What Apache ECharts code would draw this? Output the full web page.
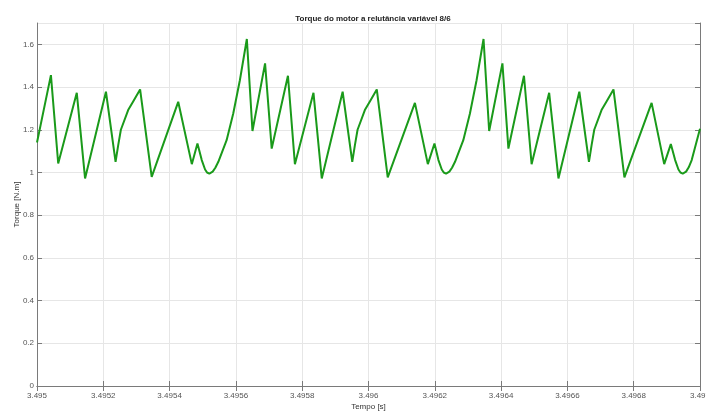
<!DOCTYPE html>
<html>
<head>
<meta charset="utf-8">
<title>Torque do motor</title>
<script src="https://cdn.jsdelivr.net/npm/echarts@6/dist/echarts.min.js"></script>
<style>
    html, body { margin: 0; padding: 0; background: #fff; }
    #main { width: 706px; height: 411px; }
</style>
</head>
<body>
<div id="main"></div>
<script>
// tempo [s]
var tempo = [
    3.495000, 3.495042, 3.495064, 3.495120, 3.495145, 3.495208, 3.495237, 3.495245, 3.495253, 3.495275,
    3.495291, 3.495311, 3.495346, 3.495426, 3.495467, 3.495484, 3.495497, 3.495507, 3.495513, 3.495520,
    3.495530, 3.495538, 3.495547, 3.495572, 3.495592, 3.495612, 3.495633, 3.495650, 3.495688, 3.495708,
    3.495757, 3.495778, 3.495834, 3.495859, 3.495922, 3.495951, 3.495959, 3.495967, 3.495989, 3.496005,
    3.496025, 3.496058, 3.496140, 3.496179, 3.496199, 3.496211, 3.496221, 3.496227, 3.496234, 3.496244,
    3.496252, 3.496261, 3.496286, 3.496306, 3.496326, 3.496347, 3.496364, 3.496404, 3.496422, 3.496469,
    3.496492, 3.496545, 3.496573, 3.496636, 3.496665, 3.496673, 3.496681, 3.496703, 3.496719, 3.496739,
    3.496772, 3.496854, 3.496892, 3.496912, 3.496925, 3.496935, 3.496941, 3.496948, 3.496958, 3.496966,
    3.496975, 3.497000
];
// torque [N.m]
var torque = [
    1.140, 1.456, 1.042, 1.373, 0.972, 1.378, 1.050, 1.128, 1.200, 1.292,
    1.335, 1.389, 0.979, 1.331, 1.039, 1.136, 1.058, 1.014, 1.000, 0.995,
    1.004, 1.022, 1.050, 1.151, 1.276, 1.432, 1.625, 1.194, 1.511, 1.112,
    1.453, 1.039, 1.373, 0.972, 1.378, 1.050, 1.128, 1.200, 1.292, 1.335,
    1.389, 0.977, 1.326, 1.039, 1.136, 1.058, 1.014, 1.000, 0.995, 1.004,
    1.022, 1.050, 1.151, 1.276, 1.432, 1.625, 1.194, 1.511, 1.112, 1.453,
    1.039, 1.373, 0.972, 1.378, 1.050, 1.128, 1.200, 1.292, 1.335, 1.389,
    0.977, 1.326, 1.039, 1.133, 1.058, 1.014, 1.000, 0.995, 1.004, 1.024,
    1.058, 1.205
];
var xTicks = [3.495, 3.497, 0.0002];  // min, max, passo
var yTicks = [0, 1.7, 0.2];

var dados = [];
for (var i = 0; i < tempo.length; i++) {
    dados.push([tempo[i], torque[i]]);
}

var myChart = echarts.init(document.getElementById('main'));

var corEixo = '#7a7a7a';
var fonte = '"Liberation Sans", Arial, sans-serif';

var option = {
    backgroundColor: '#fff',
    animation: false,
    title: {
        text: 'Torque do motor a relutância variável 8/6',
        left: 368,
        textAlign: 'center',
        top: 10,
        textStyle: { fontFamily: fonte, fontSize: 8, fontWeight: 'bold', color: '#222' }
    },
    grid: { left: 37, right: 6, top: 23, bottom: 25, containLabel: false, outerBoundsMode: 'none' },
    xAxis: [
        {
            type: 'value',
            min: xTicks[0],
            max: xTicks[1],
            interval: xTicks[2],
            name: 'Tempo [s]',
            nameLocation: 'middle',
            nameGap: 17,
            nameMoveOverlap: false,
            nameTextStyle: { fontFamily: fonte, fontSize: 8, color: '#333' },
            axisLine: { lineStyle: { color: corEixo } },
            axisTick: { inside: true, length: 5, lineStyle: { color: corEixo } },
            axisLabel: {
                fontFamily: fonte, fontSize: 8, color: '#555', margin: 6,
                formatter: function (v) { return String(+v.toFixed(4)); }
            },
            splitLine: { show: true, lineStyle: { color: '#e6e6e6' } }
        },
        {
            type: 'value',
            position: 'top',
            min: xTicks[0],
            max: xTicks[1],
            interval: xTicks[2],
            axisLine: { show: true, lineStyle: { color: corEixo } },
            axisTick: { inside: true, length: 5, lineStyle: { color: corEixo } },
            axisLabel: { show: false },
            splitLine: { show: false }
        }
    ],
    yAxis: [
        {
            type: 'value',
            min: yTicks[0],
            max: yTicks[1],
            interval: yTicks[2],
            name: 'Torque [N.m]',
            nameLocation: 'middle',
            nameGap: 16,
            nameMoveOverlap: false,
            nameTextStyle: { fontFamily: fonte, fontSize: 8, color: '#333' },
            axisLine: { show: true, lineStyle: { color: corEixo } },
            axisTick: { show: true, inside: true, length: 5, lineStyle: { color: corEixo } },
            axisLabel: {
                fontFamily: fonte, fontSize: 8, color: '#555', margin: 3,
                showMaxLabel: false,
                formatter: function (v) { return String(+v.toFixed(1)); }
            },
            splitLine: { show: true, lineStyle: { color: '#e6e6e6' } }
        },
        {
            type: 'value',
            position: 'right',
            min: yTicks[0],
            max: yTicks[1],
            interval: yTicks[2],
            axisLine: { show: true, lineStyle: { color: corEixo } },
            axisTick: { show: true, inside: true, length: 5, lineStyle: { color: corEixo } },
            axisLabel: { show: false },
            splitLine: { show: false }
        }
    ],
    series: [
        {
            name: 'Torque',
            type: 'line',
            data: dados,
            showSymbol: false,
            lineStyle: { color: '#1a9a1a', width: 2 },
            itemStyle: { color: '#1a9a1a' }
        }
    ]
};

myChart.setOption(option);
</script>
</body>
</html>
